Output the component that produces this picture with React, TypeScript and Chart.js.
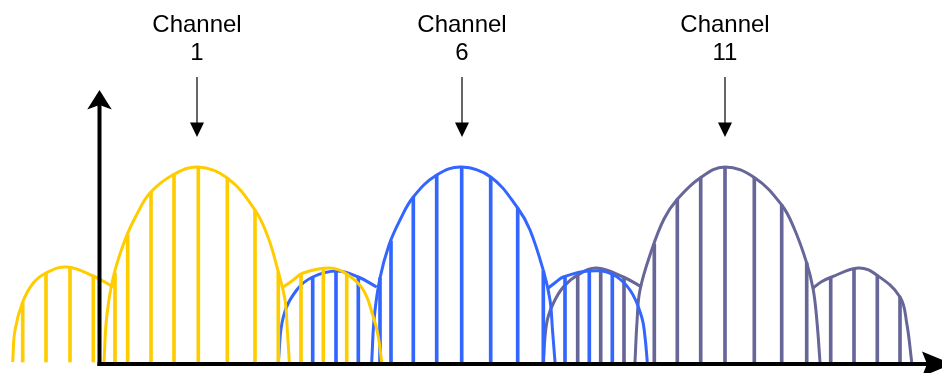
import React, { useEffect, useRef } from 'react';
import { Chart, registerables } from 'chart.js';

Chart.register(...registerables);

type Pt = [number, number];

// Channel annotations (frequency position of each channel's centre)
const channelNames = ['1', '6', '11'];
const channelCenters = [197, 462, 725];

// Channel 1 (yellow): lobe outlines [frequency, power] and sub-carriers
const ch1LeftLobe: Pt[] = [[12.7, 0], [15, 32], [22.7, 60], [33.3, 79], [46, 89], [66.7, 95], [93.3, 86], [113.3, 75]];
const ch1MainLobe: Pt[] = [[104, 0], [106.7, 45], [113.3, 85], [125, 122], [137, 148], [150, 169], [172.7, 187], [198.3, 195], [227.3, 184], [255, 152], [268, 125], [278.3, 90], [285, 62], [287.3, 32], [289.3, 0]];
const ch1RightLobe: Pt[] = [[283.3, 75], [292, 81], [303.3, 89], [330, 94], [346.7, 88], [363.3, 72], [373.3, 45], [378, 27], [381.7, 0]];
const ch1SubX = [22.7, 46, 70, 93.3, 115, 127.7, 151, 174, 198.3, 227.3, 255, 278.3, 301, 323.3, 346.7];
const ch1SubY = [60, 89, 95, 86, 89, 127, 170, 188, 195, 184, 152, 90, 88, 93, 88];

// Channel 6 (blue)
const ch6LeftLobe: Pt[] = [[278.3, 0], [283.3, 45], [296.7, 72], [312.7, 85], [336.7, 91], [358.3, 85], [376.7, 75]];
const ch6MainLobe: Pt[] = [[371.7, 0], [374.3, 45], [380, 84], [389, 117], [400, 142], [413.3, 165], [436.7, 187], [461.7, 195], [490.7, 185], [517.7, 154], [530, 132], [544, 89], [550, 62], [552.5, 32], [555, 0]];
const ch6RightLobe: Pt[] = [[548.3, 74], [556, 80], [563.3, 85], [588.3, 91], [611.7, 88], [630, 72], [641.7, 45], [645, 25], [647.3, 0]];
const ch6SubX = [312.7, 336, 358.3, 380, 391, 413.3, 436.7, 461.7, 490.7, 517.7, 543.3, 565, 589.3, 612.3];
const ch6SubY = [85, 91, 85, 84, 121, 165, 187, 195, 185, 154, 91, 86, 91, 88];

// Channel 11 (purple)
const ch11LeftLobe: Pt[] = [[543.3, 0], [546.7, 39], [553, 58], [563.3, 75], [577.7, 87], [596.7, 94], [623.3, 85], [641.7, 75]];
const ch11MainLobe: Pt[] = [[635, 0], [637, 40], [640, 72], [651.7, 112], [664, 143], [676.7, 162], [700, 184], [725, 195], [755, 184], [781.7, 157], [794, 134], [806.7, 99], [813.3, 72], [817, 40], [820, 0]];
const ch11RightLobe: Pt[] = [[813.3, 74], [821, 80], [831.7, 85], [858.3, 94], [876.7, 87], [900, 65], [906.7, 39], [911.7, 0]];
const ch11SubX = [577.7, 600.7, 624, 654.3, 677.3, 700.7, 725, 754.3, 781.7, 806.7, 830.7, 854, 877.3, 900];
const ch11SubY = [87, 93, 85, 118, 163, 184, 195, 184, 157, 99, 85, 93, 87, 65];

const YELLOW = '#FFCC00';
const BLUE = '#3366FF';
const PURPLE = '#666699';

const toXY = (pts: Pt[]) => pts.map(([x, y]) => ({ x, y }));
const subs = (xs: number[], ys: number[]) => xs.map((x, i) => ({ x, y: ys[i] }));

function lobe(pts: Pt[], color: string) {
  return {
    type: 'line' as const,
    data: toXY(pts),
    borderColor: color,
    borderWidth: 3,
    pointRadius: 0,
    fill: false,
    tension: 0.4,
  };
}

function carriers(xs: number[], ys: number[], color: string) {
  return {
    type: 'bar' as const,
    data: subs(xs, ys),
    backgroundColor: color,
    borderWidth: 0,
    barThickness: 3,
    stack: 'carriers',
  };
}

export default function App() {
  const ref = useRef<HTMLCanvasElement>(null);

  useEffect(() => {
    if (!ref.current) return;

    const overlay = {
      id: 'overlay',
      afterDatasetsDraw(chart: any) {
        const { ctx, scales } = chart;
        const xs = scales.x;
        const ys = scales.y;
        const base = ys.getPixelForValue(0);
        ctx.save();
        ctx.fillStyle = '#000';
        ctx.strokeStyle = '#000';
        // axes
        const ax = 99.5;
        const ay = base + 2;
        ctx.fillRect(ax - 2, 105, 4, ay + 2 - 105);
        ctx.fillRect(ax - 2, ay - 2, 930 - (ax - 2), 4);
        // y arrow head
        ctx.beginPath();
        ctx.moveTo(ax, 90);
        ctx.lineTo(ax + 12.3, 109.5);
        ctx.lineTo(ax, 105);
        ctx.lineTo(ax - 12.3, 109.5);
        ctx.closePath();
        ctx.fill();
        // x arrow head
        ctx.beginPath();
        ctx.moveTo(952, ay);
        ctx.lineTo(922, ay - 12.6);
        ctx.lineTo(927, ay);
        ctx.lineTo(922, ay + 12.6);
        ctx.closePath();
        ctx.fill();
        // channel labels and arrows
        ctx.font = '24px "Liberation Sans", Arial, sans-serif';
        ctx.textAlign = 'center';
        ctx.textBaseline = 'alphabetic';
        channelNames.forEach((name, i) => {
          const cx = xs.getPixelForValue(channelCenters[i]);
          ctx.fillText('Channel', cx, 31.5);
          ctx.fillText(name, cx, 60);
          ctx.lineWidth = 1.2;
          ctx.beginPath();
          ctx.moveTo(cx, 77);
          ctx.lineTo(cx, 124);
          ctx.stroke();
          ctx.beginPath();
          ctx.moveTo(cx - 7, 122.5);
          ctx.lineTo(cx + 7, 122.5);
          ctx.lineTo(cx, 137);
          ctx.closePath();
          ctx.fill();
        });
        ctx.restore();
      },
    };

    const chart = new Chart(ref.current, {
      type: 'line',
      data: {
        datasets: [
          lobe(ch1LeftLobe, YELLOW),
          lobe(ch1MainLobe, YELLOW),
          lobe(ch1RightLobe, YELLOW),
          carriers(ch1SubX, ch1SubY, YELLOW),
          lobe(ch6LeftLobe, BLUE),
          lobe(ch6MainLobe, BLUE),
          lobe(ch6RightLobe, BLUE),
          carriers(ch6SubX, ch6SubY, BLUE),
          lobe(ch11LeftLobe, PURPLE),
          lobe(ch11MainLobe, PURPLE),
          lobe(ch11RightLobe, PURPLE),
          carriers(ch11SubX, ch11SubY, PURPLE),
        ] as any,
      },
      options: {
        responsive: false,
        animation: false,
        events: [],
        layout: { padding: 0 },
        plugins: { legend: { display: false }, tooltip: { enabled: false } },
        scales: {
          x: { type: 'linear', min: 0, max: 942, display: false, offset: false },
          y: { type: 'linear', min: -11, max: 362, display: false, stacked: false },
        },
      },
      plugins: [overlay],
    });
    return () => chart.destroy();
  }, []);

  return (
    <div style={{ position: 'absolute', left: 0, top: 0, width: 942, height: 373 }}>
      <canvas ref={ref} width={942} height={373} style={{ display: 'block' }} />
    </div>
  );
}
